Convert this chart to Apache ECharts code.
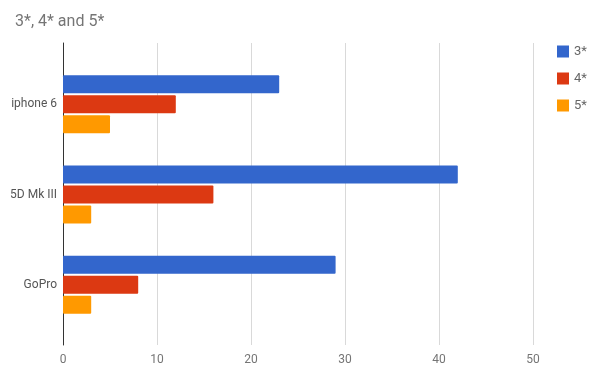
<!DOCTYPE html>
<html><head><meta charset="utf-8">
<script src="https://cdn.jsdelivr.net/npm/echarts@6/dist/echarts.min.js"></script>
<style>html,body{margin:0;padding:0;background:#fff}#c{width:604px;height:376px}</style>
</head><body><div id="c"></div>
<script>
const categories = ['iphone 6', '5D Mk III', 'GoPro'];
const s3 = [23, 42, 29];
const s4 = [12, 16, 8];
const s5 = [5, 3, 3];
const seriesNames = ['3*', '4*', '5*'];
const colors = ['#3366cc', '#dc3912', '#ff9900'];
const font = 'Roboto, Arial, sans-serif';
const chart = echarts.init(document.getElementById('c'));
chart.setOption({
  animation: false,
  title: { text: '3*, 4* and 5*', left: 10, top: 9, textStyle: { fontFamily: font, fontSize: 16, fontWeight: 'normal', color: '#757575' } },
  legend: { orient: 'vertical', left: 552, top: 40, itemWidth: 12, itemHeight: 12, itemGap: 14, icon: 'rect',
    textStyle: { fontFamily: font, fontSize: 13, color: '#666' }, data: seriesNames },
  grid: [
    { left: 63, right: 71, top: 59, bottom: 46, containLabel: false },
    { left: 63, right: 71, top: 43, bottom: 31, containLabel: false }
  ],
  xAxis: [
    { type: 'value', gridIndex: 0, min: 0, max: 50, interval: 10,
      axisLine: { show: false }, axisTick: { show: false }, axisLabel: { show: false }, splitLine: { show: false } },
    { type: 'value', gridIndex: 1, min: 0, max: 50, interval: 10,
      axisLine: { show: false }, axisTick: { show: false },
      axisLabel: { fontFamily: font, fontSize: 12, color: '#757575', margin: 9 },
      splitLine: { lineStyle: { color: '#d9d9d9', width: 1 } } }
  ],
  yAxis: [
    { type: 'category', gridIndex: 0, data: categories, inverse: true,
      axisLine: { show: false }, axisTick: { show: false }, splitLine: { show: false },
      axisLabel: { fontFamily: font, fontSize: 12, color: '#555', margin: 6 } },
    { type: 'value', gridIndex: 1, min: 0, max: 1,
      axisLine: { show: true, lineStyle: { color: '#333', width: 1 } }, axisTick: { show: false },
      axisLabel: { show: false }, splitLine: { show: false } }
  ],
  series: [
    { name: seriesNames[0], type: 'bar', xAxisIndex: 0, yAxisIndex: 0, data: s3, barWidth: 18, barGap: '11%', z: 3, itemStyle: { color: colors[0], borderRadius: 1 } },
    { name: seriesNames[1], type: 'bar', xAxisIndex: 0, yAxisIndex: 0, data: s4, barWidth: 18, barGap: '11%', z: 3, itemStyle: { color: colors[1], borderRadius: 1 } },
    { name: seriesNames[2], type: 'bar', xAxisIndex: 0, yAxisIndex: 0, data: s5, barWidth: 18, barGap: '11%', z: 3, itemStyle: { color: colors[2], borderRadius: 1 } }
  ]
});
</script></body></html>
